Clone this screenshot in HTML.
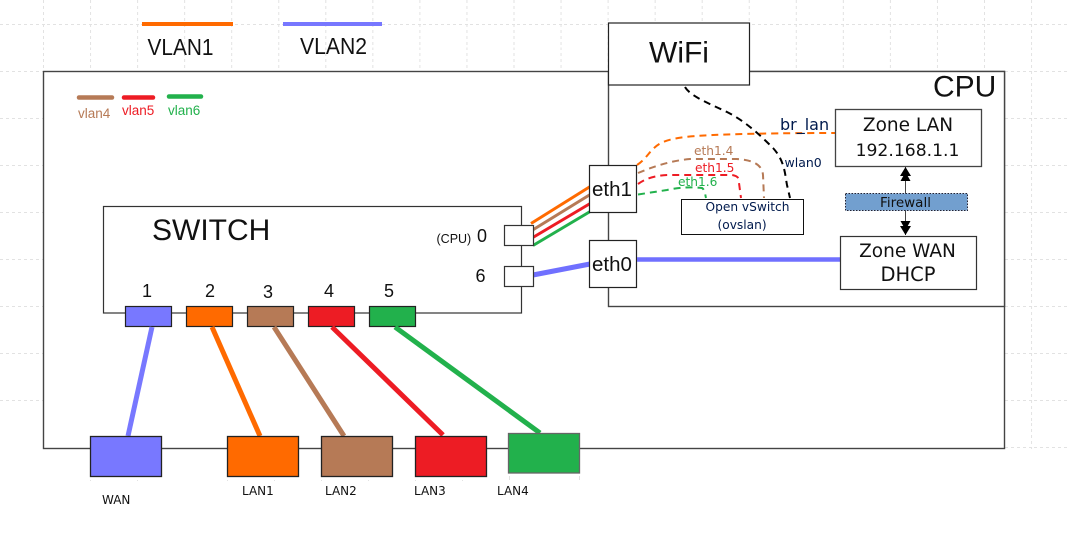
<!DOCTYPE html>
<html>
<head>
<meta charset="utf-8">
<style>
html,body{margin:0;padding:0;background:#fff;}
svg{display:block;}
text{font-family:"Liberation Sans",sans-serif;fill:#111;}
.d{font-family:"DejaVu Sans",sans-serif;}
</style>
</head>
<body>
<svg width="1070" height="533" viewBox="0 0 1070 533" xmlns="http://www.w3.org/2000/svg">
<defs>
<pattern id="gv" x="43" y="0" width="47.05" height="47" patternUnits="userSpaceOnUse">
<path d="M0.5 0V47" stroke="#e2e2e2" stroke-width="1" stroke-dasharray="3 3" fill="none"/>
</pattern>
<pattern id="gh" x="0" y="24" width="47" height="47" patternUnits="userSpaceOnUse">
<path d="M0 0.5H47" stroke="#e2e2e2" stroke-width="1" stroke-dasharray="3 3" fill="none"/>
</pattern>
</defs>
<rect x="43" y="0" width="1027" height="449" fill="url(#gv)"/>
<rect x="0" y="0" width="1070" height="449" fill="url(#gh)"/>
<rect x="0" y="440" width="43" height="20" fill="#fff"/>
<g fill="#e2e2e2">
<rect x="90" y="480" width="1" height="1"/><rect x="137" y="480" width="1" height="1"/>
<rect x="227" y="480" width="1" height="1"/><rect x="274" y="480" width="1" height="1"/>
<rect x="321" y="480" width="1" height="1"/><rect x="368" y="480" width="1" height="1"/>
<rect x="415" y="480" width="1" height="1"/><rect x="462" y="480" width="1" height="1"/>
<rect x="579" y="476" width="1" height="4"/><rect x="509" y="476" width="1" height="4"/>
</g>

<!-- legend -->
<rect x="142" y="22" width="91" height="4" fill="#ff6a00"/>
<rect x="283" y="22" width="99" height="4" fill="#7777ff"/>
<text x="147.500" y="55" font-size="23" textLength="66" lengthAdjust="spacingAndGlyphs">VLAN1</text>
<text x="300" y="54" font-size="23" textLength="67" lengthAdjust="spacingAndGlyphs">VLAN2</text>

<!-- outer box -->
<rect x="43.500" y="71.500" width="961" height="377" fill="#fff" stroke="#444" stroke-width="1.400"/>
<rect x="608.500" y="71.500" width="396" height="235" fill="#fff" stroke="#444" stroke-width="1.400"/>

<!-- small legend -->
<line x1="79" y1="97.500" x2="112" y2="97.500" stroke="#b67a56" stroke-width="4.500" stroke-linecap="round"/>
<line x1="124" y1="97.500" x2="153" y2="97.500" stroke="#ed1c24" stroke-width="4.500" stroke-linecap="round"/>
<line x1="169" y1="96.500" x2="201" y2="96.500" stroke="#22b14c" stroke-width="4.500" stroke-linecap="round"/>
<text x="78" y="118" font-size="13.500" style="fill:#b67a56">vlan4</text>
<text x="122" y="115" font-size="13.500" style="fill:#ed1c24">vlan5</text>
<text x="168" y="115" font-size="13.500" style="fill:#22b14c">vlan6</text>

<!-- switch -->
<rect x="103.500" y="206.500" width="418" height="106.500" fill="#fff" stroke="#333" stroke-width="1.200"/>
<text x="152" y="240" font-size="30">SWITCH</text>
<text x="436.500" y="243" font-size="12.500">(CPU)</text>
<text x="477" y="242" font-size="18">0</text>
<text x="475.500" y="282" font-size="18">6</text>

<!-- connectors CPU port -->
<g fill="none" stroke-width="3">
<line x1="531" y1="223.500" x2="591" y2="186" stroke="#ff6a00"/>
<line x1="531" y1="231" x2="591" y2="194" stroke="#b67a56"/>
<line x1="532" y1="238" x2="591" y2="203" stroke="#ed1c24"/>
<line x1="533" y1="245.500" x2="591" y2="211" stroke="#22b14c"/>
</g>
<line x1="533" y1="275" x2="590" y2="264" stroke="#7070ff" stroke-width="5"/>
<rect x="504.500" y="225.500" width="29" height="20" fill="#fff" stroke="#333" stroke-width="1.200"/>
<rect x="504.500" y="266.500" width="29" height="20" fill="#fff" stroke="#333" stroke-width="1.200"/>

<!-- port boxes -->
<g stroke="#222" stroke-width="1.200">
<rect x="125.500" y="306.500" width="46" height="20" fill="#7878ff"/>
<rect x="186.500" y="306.500" width="46" height="20" fill="#ff6a00"/>
<rect x="247.500" y="306.500" width="46" height="20" fill="#b67a56"/>
<rect x="308.500" y="306.500" width="46" height="20" fill="#ed1c24"/>
<rect x="369.500" y="306.500" width="46" height="20" fill="#22b14c"/>
</g>
<g font-size="18">
<text x="142" y="297">1</text>
<text x="205" y="297">2</text>
<text x="263" y="298">3</text>
<text x="324" y="297">4</text>
<text x="384" y="297">5</text>
</g>

<!-- port links -->
<g stroke-width="5" fill="none">
<line x1="152" y1="327" x2="128" y2="436" stroke="#7878ff"/>
<line x1="212" y1="327" x2="260" y2="436" stroke="#ff6a00"/>
<line x1="274" y1="327" x2="344" y2="436" stroke="#b67a56"/>
<line x1="332" y1="327" x2="443" y2="435" stroke="#ed1c24"/>
<line x1="395" y1="327" x2="540" y2="433" stroke="#22b14c"/>
</g>

<!-- lan boxes -->
<g stroke="#222" stroke-width="1.300">
<rect x="90.500" y="436.500" width="71" height="40" fill="#7878ff"/>
<rect x="227.500" y="436.500" width="71" height="40" fill="#ff6a00"/>
<rect x="321.500" y="436.500" width="71" height="40" fill="#b67a56"/>
<rect x="415.500" y="436.500" width="71" height="40" fill="#ed1c24"/>
<rect x="508.500" y="433.500" width="71" height="39.500" fill="#22b14c" stroke="#666"/>
</g>
<g font-size="12">
<text class="d" x="102" y="504">WAN</text>
<text class="d" x="242" y="495">LAN1</text>
<text class="d" x="325" y="495">LAN2</text>
<text class="d" x="414" y="495">LAN3</text>
<text class="d" x="497" y="495">LAN4</text>
</g>

<!-- dashed lines -->
<g fill="none" stroke-width="2" stroke-dasharray="7 5">
<path d="M637 165 C648 158 650 148 663 142 C678 136 700 136 713 135 C735 134 780 133 835 133" stroke="#ff6a00"/>
<path d="M638 173 C650 168 668 161 690 159 L737 159 C752 160 762 164 763 175 L764 198" stroke="#b67a56"/>
<path d="M638 184 C645 179 655 175 670 175 L732 175 C738 176 739 178 739 183 L741 198" stroke="#ed1c24"/>
<path d="M638 194.500 L667 190 C680 187 692 187 702 188 C705 190 705 194 706 198" stroke="#22b14c"/>
<path d="M685 87 C690 96 710 104 727 112 C745 121 760 135 773 148 C785 161 785 175 787 185 L790 198" stroke="#000"/>
</g>

<!-- labels on dashed -->
<text x="694" y="155" font-size="12.200" class="d" style="fill:#b67a56">eth1.4</text>
<text x="695" y="172" font-size="12.200" class="d" style="fill:#ed1c24">eth1.5</text>
<text x="678" y="186" font-size="12.200" class="d" style="fill:#22b14c">eth1.6</text>
<text x="780" y="130" font-size="16" class="d" style="fill:#001a4d">br_lan</text>
<text x="784.500" y="167" font-size="12.500" class="d" style="fill:#001a4d">wlan0</text>

<!-- eth -->
<rect x="589.500" y="165.500" width="47" height="47" fill="#fff" stroke="#222" stroke-width="1.200"/>
<rect x="589.500" y="240.500" width="47" height="47" fill="#fff" stroke="#222" stroke-width="1.200"/>
<text x="592" y="196" font-size="20.500">eth1</text>
<text x="592" y="271" font-size="20.500">eth0</text>
<line x1="637" y1="259.500" x2="840" y2="259.500" stroke="#7070ff" stroke-width="4.500"/>

<!-- vswitch -->
<rect x="681.500" y="199.500" width="122" height="35" fill="#fff" stroke="#111" stroke-width="1"/>
<text x="705.500" y="211" font-size="12.200" class="d" style="fill:#001a4d">Open vSwitch</text>
<text x="717.500" y="229" font-size="12.200" class="d" style="fill:#001a4d">(ovslan)</text>

<!-- WiFi -->
<rect x="608.500" y="23" width="141" height="62" fill="#fff" stroke="#222" stroke-width="1.200"/>
<text x="649" y="62.500" font-size="30">WiFi</text>
<text x="933" y="96.500" font-size="30">CPU</text>

<!-- zones -->
<rect x="835.500" y="109.500" width="146" height="57" fill="#fff" stroke="#444" stroke-width="1.300"/>
<text x="908" y="131" font-size="18.500" text-anchor="middle" class="d">Zone LAN</text>
<text x="907.500" y="156" font-size="17.200" text-anchor="middle" class="d">192.168.1.1</text>
<rect x="840.500" y="236.500" width="136" height="53" fill="#fff" stroke="#333" stroke-width="1.200"/>
<text x="907.500" y="257" font-size="18.500" text-anchor="middle" class="d">Zone WAN</text>
<text x="908" y="281" font-size="19.500" text-anchor="middle" class="d">DHCP</text>

<!-- firewall -->
<line x1="905.500" y1="167" x2="905.500" y2="235" stroke="#444" stroke-width="1"/>
<path d="M905.500 167 L911 176 H900Z M905.500 172 L910.500 181 H900.500Z" fill="#000"/>
<path d="M905.500 235 L911 226 H900Z M905.500 230 L910.500 221 H900.500Z" fill="#000"/>
<rect x="845.500" y="193.500" width="122" height="17" fill="#729fcf" stroke="#223" stroke-width="1" stroke-dasharray="1.500 1.500"/>
<text x="905.500" y="207" font-size="13.500" text-anchor="middle" class="d">Firewall</text>
</svg>
</body>
</html>
